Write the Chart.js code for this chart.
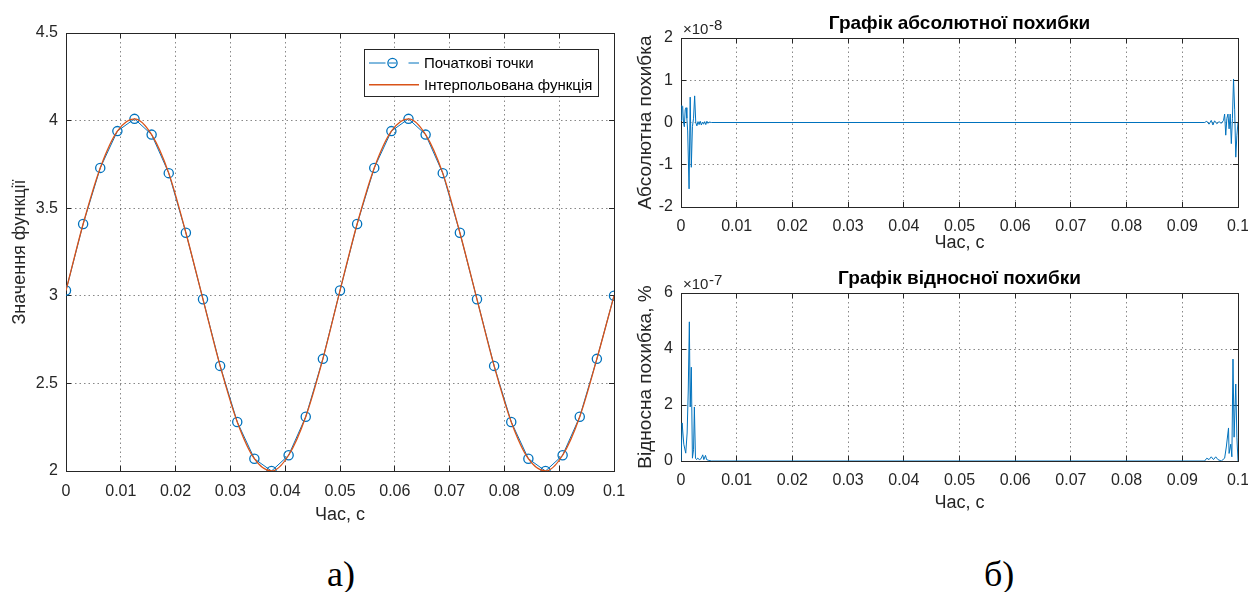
<!DOCTYPE html>
<html lang="uk">
<head>
<meta charset="utf-8">
<title>Інтерполяція функції</title>
<script src="https://cdn.jsdelivr.net/npm/chart.js@4.4.1/dist/chart.umd.min.js"></script>
<style>
    html, body { margin: 0; padding: 0; background: #fff; }
    body { width: 1248px; height: 592px; position: relative; overflow: hidden; }
    canvas { position: absolute; }
    #chart-interp { left: 0; top: 0; }
    #chart-abs { left: 630px; top: 0; }
    #chart-rel { left: 630px; top: 262px; }
    .caption {
        position: absolute; top: 553px; line-height: 36px; color: #000;
        font: 36px 'Liberation Serif', 'Times New Roman', serif;
    }
</style>
</head>
<body>
<canvas id="chart-interp" width="630" height="540"></canvas>
<canvas id="chart-abs" width="618" height="262"></canvas>
<canvas id="chart-rel" width="618" height="258"></canvas>
<div class="caption" style="left:327px">а)</div>
<div class="caption" style="left:984px">б)</div>

<script>
// осі
const timeTicks = [0, 0.01, 0.02, 0.03, 0.04, 0.05, 0.06, 0.07, 0.08, 0.09, 0.1];
const timeTickLabels = ['0', '0.01', '0.02', '0.03', '0.04', '0.05', '0.06', '0.07', '0.08', '0.09', '0.1'];
const valueTicks = [2, 2.5, 3, 3.5, 4, 4.5];
const valueTickLabels = ['2', '2.5', '3', '3.5', '4', '4.5'];
const absTicks = [-2, -1, 0, 1, 2];
const absTickLabels = ['-2', '-1', '0', '1', '2'];
const relTicks = [0, 2, 4, 6];
const relTickLabels = ['0', '2', '4', '6'];

// початкові точки
const sampleTimes = [0, 0.003125, 0.00625, 0.009375, 0.0125, 0.015625, 0.01875, 0.021875,
    0.025, 0.028125, 0.03125, 0.034375, 0.0375, 0.040625, 0.04375, 0.046875,
    0.05, 0.053125, 0.05625, 0.059375, 0.0625, 0.065625, 0.06875, 0.071875,
    0.075, 0.078125, 0.08125, 0.084375, 0.0875, 0.090625, 0.09375, 0.096875, 0.1];
const sampleValues = [3.03, 3.41, 3.73, 3.94, 4.01, 3.92, 3.70, 3.36,
    2.98, 2.60, 2.28, 2.07, 2.00, 2.09, 2.31, 2.64,
    3.03, 3.41, 3.73, 3.94, 4.01, 3.92, 3.70, 3.36,
    2.98, 2.60, 2.28, 2.07, 2.00, 2.09, 2.31, 2.64, 3.00];

// абсолютна похибка, x10^-8
const absErrTimes = [0, 0.00015, 0.0003, 0.00045, 0.0006, 0.00075, 0.0009, 0.00105, 0.0012,
    0.00145, 0.00165, 0.00185, 0.00205, 0.00225, 0.00245, 0.00265, 0.00285, 0.00305,
    0.00325, 0.00345, 0.00365, 0.00385, 0.00405, 0.00425, 0.00445, 0.00465, 0.00485,
    0.00505, 0.0055, 0.094, 0.0944, 0.0948, 0.0952, 0.0955, 0.0958, 0.0962, 0.0966,
    0.097, 0.0974, 0.0976, 0.0978, 0.098, 0.0982, 0.0984, 0.0986, 0.0988, 0.099,
    0.0992, 0.0994, 0.0996, 0.0998, 0.1];
const absErrValues = [0.05, 0.40, 0.38, 0.00, -0.10, 0.30, 0.35, 0.10, -0.20,
    -1.57, 0.60, -1.06, -0.10, 0.10, 0.63, 0.00, -0.08, 0.02,
    -0.05, 0.03, -0.06, 0.01, -0.04, 0.02, -0.05, 0.03, -0.02,
    0.01, 0, 0, 0.03, -0.04, 0.05, -0.06, 0.04, -0.03, 0.02,
    -0.02, 0.05, 0.20, -0.30, 0.10, 0.20, -0.15, 0.20, -0.50, 0.10,
    1.03, 0.30, -0.82, -0.30, 0.00];

// відносна похибка, % x10^-7
const relErrTimes = [0, 0.0002, 0.0005, 0.00085, 0.0011, 0.0013, 0.0015, 0.00165, 0.00185,
    0.00205, 0.00225, 0.0024, 0.0026, 0.0028, 0.003, 0.0033, 0.0036, 0.0039, 0.0041,
    0.0044, 0.0046, 0.005, 0.0055, 0.094, 0.0944, 0.0948, 0.0952, 0.0956, 0.096,
    0.0964, 0.097, 0.0976, 0.0979, 0.0983, 0.0984, 0.0987, 0.0989, 0.0991, 0.0993,
    0.0996, 0.0998, 0.1];
const relErrValues = [0.00, 1.36, 0.60, 0.28, 1.00, 2.50, 4.97, 1.93, 3.35,
    0.10, 0.40, 1.93, 0.10, 0.05, 0.10, 0.05, 0.08, 0.22, 0.05,
    0.20, 0.05, 0.02, 0.00, 0.00, 0.10, 0.05, 0.15, 0.05, 0.15,
    0.05, 0.00, 0.10, 0.50, 1.18, 0.27, 0.60, 0.15, 3.64, 0.85,
    2.75, 0.85, 0.00];

const INK = '#262626';
const FONT = "'Liberation Sans', Arial, Helvetica, sans-serif";
const BLUE = '#0072BD';
const ORANGE = '#D95319';

const toPoints = (xs, ys) => xs.map((x, i) => ({ x, y: ys[i] }));
const crisp = v => Math.round(v - 0.5) + 0.5;

// рамка осей з внутрішніми рисками, як у MATLAB
const framePlugin = {
    id: 'frame',
    beforeDatasetsDraw(chart) {
        const { ctx, chartArea: a, scales } = chart;
        const L = 5;
        ctx.save();
        ctx.strokeStyle = INK;
        ctx.lineWidth = 1;
        ctx.beginPath();
        scales.x.ticks.forEach(t => {
            const px = crisp(scales.x.getPixelForValue(t.value));
            ctx.moveTo(px, a.bottom); ctx.lineTo(px, a.bottom - L);
            ctx.moveTo(px, a.top); ctx.lineTo(px, a.top + L);
        });
        scales.y.ticks.forEach(t => {
            const py = crisp(scales.y.getPixelForValue(t.value));
            ctx.moveTo(a.left, py); ctx.lineTo(a.left + L, py);
            ctx.moveTo(a.right, py); ctx.lineTo(a.right - L, py);
        });
        ctx.stroke();
        ctx.strokeRect(crisp(a.left), crisp(a.top), a.right - a.left, a.bottom - a.top);
        ctx.restore();
    }
};

// заголовок над областю графіка і множник осі y
const headerPlugin = {
    id: 'header',
    afterDraw(chart, args, opts) {
        const { ctx, chartArea: a } = chart;
        ctx.save();
        if (opts.title) {
            ctx.fillStyle = '#000';
            ctx.font = `bold 19px ${FONT}`;
            ctx.textAlign = 'center';
            ctx.textBaseline = 'alphabetic';
            ctx.fillText(opts.title, (a.left + a.right) / 2, a.top - 8.7);
        }
        if (opts.power) {
            ctx.fillStyle = INK;
            ctx.textAlign = 'left';
            ctx.textBaseline = 'alphabetic';
            ctx.font = `15px ${FONT}`;
            const base = '\u00d710';
            ctx.fillText(base, a.left + 2, a.top - 4);
            const w = ctx.measureText(base).width;
            ctx.fillText(opts.power, a.left + 2.5 + w, a.top - 8.5);
        }
        ctx.restore();
    }
};

// легенда у верхньому правому куті
const legendPlugin = {
    id: 'boxLegend',
    afterDraw(chart, args, opts) {
        if (!opts.items) return;
        const { ctx, chartArea: a } = chart;
        ctx.save();
        ctx.font = `15px ${FONT}`;
        const textW = Math.max(...opts.items.map(it => ctx.measureText(it.text).width));
        const w = Math.round(60 + textW + 6);
        const h = 47;
        const x0 = Math.round(a.right - 16 - w);
        const y0 = Math.round(a.top + 16);
        ctx.fillStyle = '#fff';
        ctx.fillRect(x0, y0, w, h);
        ctx.strokeStyle = INK;
        ctx.lineWidth = 1;
        ctx.strokeRect(x0 + 0.5, y0 + 0.5, w, h);
        opts.items.forEach((it, i) => {
            const cy = y0 + 14 + i * 21.7;
            ctx.strokeStyle = it.color;
            ctx.lineWidth = it.marker ? 1 : 1.6;
            ctx.beginPath();
            if (it.marker) {
                ctx.moveTo(x0 + 5, cy); ctx.lineTo(x0 + 21.5, cy);
                ctx.moveTo(x0 + 25, cy); ctx.lineTo(x0 + 32, cy);
                ctx.moveTo(x0 + 44.5, cy); ctx.lineTo(x0 + 55, cy);
            } else {
                ctx.moveTo(x0 + 5, cy); ctx.lineTo(x0 + 55, cy);
            }
            ctx.stroke();
            if (it.marker) {
                ctx.lineWidth = 1.3;
                ctx.beginPath();
                ctx.arc(x0 + 28.5, cy, 4.6, 0, Math.PI * 2);
                ctx.stroke();
            }
            ctx.fillStyle = '#000';
            ctx.textBaseline = 'middle';
            ctx.textAlign = 'left';
            ctx.fillText(it.text, x0 + 60, cy + 1);
        });
        ctx.restore();
    }
};

function axis(ticks, labels, size, o) {
    return {
        type: 'linear',
        min: ticks[0],
        max: ticks[ticks.length - 1],
        afterBuildTicks: s => { s.ticks = ticks.map(v => ({ value: v })); },
        afterFit: s => {
            if (s.isHorizontal()) {
                s.height = o.size; s.paddingLeft = 0; s.paddingRight = 0;
            } else {
                s.width = o.size; s.paddingTop = 0; s.paddingBottom = 0;
            }
        },
        ticks: {
            callback: (v, i) => labels[i],
            color: INK,
            font: { family: FONT, size: size },
            padding: o.tickPad,
            autoSkip: false,
            minRotation: 0,
            maxRotation: 0
        },
        grid: { color: 'rgba(38,38,38,0.55)', lineWidth: 1, drawTicks: false },
        border: { display: false, dash: [1.5, 3] },
        title: {
            display: true,
            text: o.title,
            color: INK,
            font: { family: FONT, size: o.titleSize || 18 },
            padding: o.titlePad
        }
    };
}

function baseOptions(pad) {
    return {
        responsive: false,
        animation: false,
        events: [],
        layout: { padding: pad },
        plugins: { legend: { display: false }, tooltip: { enabled: false } }
    };
}

document.addEventListener('DOMContentLoaded', () => {

    // а) інтерполяція
    const optsA = baseOptions({ left: 0, top: 33, right: 16, bottom: 0 });
    optsA.scales = {
        x: axis(timeTicks, timeTickLabels, 16, { size: 69, tickPad: 11, title: 'Час, с', titlePad: { top: 0, bottom: 14 } }),
        y: axis(valueTicks, valueTickLabels, 16, { size: 66, tickPad: 8, title: 'Значення функції', titlePad: { top: 9.5, bottom: 0 } })
    };
    optsA.plugins.boxLegend = {
        items: [
            { text: 'Початкові точки', color: BLUE, marker: true },
            { text: 'Інтерпольована функція', color: ORANGE, marker: false }
        ]
    };
    new Chart(document.getElementById('chart-interp'), {
        type: 'line',
        data: {
            datasets: [
                {
                    label: 'Початкові точки',
                    data: toPoints(sampleTimes, sampleValues),
                    borderColor: BLUE,
                    borderWidth: 1,
                    pointStyle: 'circle',
                    pointRadius: 4.6,
                    pointBorderWidth: 1.3,
                    pointBorderColor: BLUE,
                    pointBackgroundColor: 'rgba(0,0,0,0)',
                    tension: 0,
                    order: 1
                },
                {
                    label: 'Інтерпольована функція',
                    data: toPoints(sampleTimes, sampleValues),
                    borderColor: ORANGE,
                    borderWidth: 1.3,
                    pointRadius: 0,
                    cubicInterpolationMode: 'monotone',
                    order: 0
                }
            ]
        },
        options: optsA,
        plugins: [framePlugin, legendPlugin]
    });

    // б) абсолютна похибка
    const optsB = baseOptions({ left: 0, top: 38, right: 10, bottom: 0 });
    optsB.scales = {
        x: axis(timeTicks, timeTickLabels, 16, { size: 55, tickPad: 10, title: 'Час, с', titlePad: { top: 0, bottom: 8.5 } }),
        y: axis(absTicks, absTickLabels, 16, { size: 51, tickPad: 8, title: 'Абсолютна похибка', titleSize: 19, titlePad: { top: 4, bottom: 0 } })
    };
    optsB.plugins.header = { title: 'Графік абсолютної похибки', power: '-8' };
    new Chart(document.getElementById('chart-abs'), {
        type: 'line',
        data: {
            datasets: [{
                data: toPoints(absErrTimes, absErrValues),
                borderColor: BLUE,
                borderWidth: 1,
                pointRadius: 0,
                tension: 0
            }]
        },
        options: optsB,
        plugins: [framePlugin, headerPlugin]
    });

    // б) відносна похибка
    const optsC = baseOptions({ left: 0, top: 31, right: 10, bottom: 0 });
    optsC.scales = {
        x: axis(timeTicks, timeTickLabels, 16, { size: 59, tickPad: 10, title: 'Час, с', titlePad: { top: 0, bottom: 6.5 } }),
        y: axis(relTicks, relTickLabels, 16, { size: 51, tickPad: 8, title: 'Відносна похибка, %', titleSize: 19, titlePad: { top: 4, bottom: 0 } })
    };
    optsC.plugins.header = { title: 'Графік відносної похибки', power: '-7' };
    new Chart(document.getElementById('chart-rel'), {
        type: 'line',
        data: {
            datasets: [{
                data: toPoints(relErrTimes, relErrValues),
                borderColor: BLUE,
                borderWidth: 1,
                pointRadius: 0,
                tension: 0
            }]
        },
        options: optsC,
        plugins: [framePlugin, headerPlugin]
    });
});
</script>
</body>
</html>
